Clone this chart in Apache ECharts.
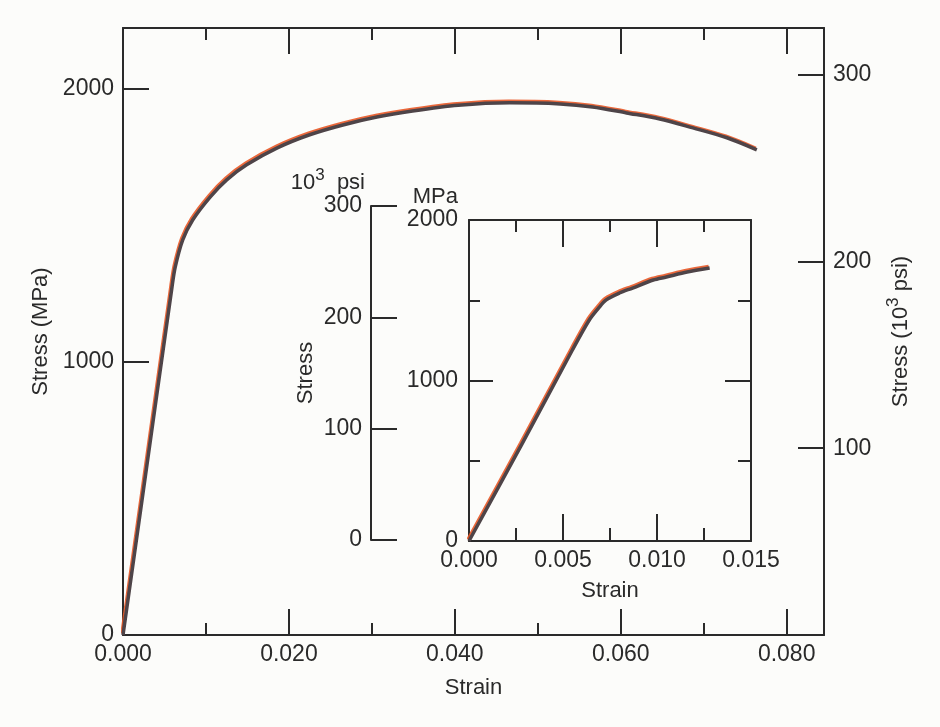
<!DOCTYPE html>
<html>
<head>
<meta charset="utf-8">
<script src="https://cdn.jsdelivr.net/npm/echarts@6/dist/echarts.min.js"></script>
<style>
  html, body { margin: 0; padding: 0; background: #fcfcfa; }
  #chart { width: 940px; height: 727px; }
</style>
</head>
<body>
<div id="chart"></div>
<script>
// main curve: strain vs stress (MPa)
const mainStrain = [0, 0.0024, 0.0059, 0.0063, 0.0072, 0.0084, 0.0105, 0.0125, 0.0149, 0.0186, 0.0225, 0.0265, 0.0306, 0.0349, 0.0404, 0.0466, 0.0527, 0.0566, 0.0607, 0.0647, 0.0687, 0.0728, 0.0764]
const mainStress = [0, 517, 1273, 1348, 1447, 1520, 1604, 1667, 1722, 1784, 1832, 1868, 1897, 1919, 1940, 1949, 1945, 1934, 1912, 1890, 1857, 1821, 1777]

// inset: the early part of the same test, stretched out
const insetStrain = [0, 0.0028, 0.0055, 0.0064, 0.0069, 0.0073, 0.0080, 0.0087, 0.0098, 0.0105, 0.0116, 0.0128]
const insetStress = [0, 600, 1190, 1377, 1452, 1502, 1545, 1576, 1626, 1645, 1676, 1701]

// axis labels shown
const mainStrainTicks = [0, 0.02, 0.04, 0.06, 0.08]
const mainMpaTicks = [0, 1000, 2000]
const mainKsiTicks = [100, 200, 300]
const insetStrainTicks = [0, 0.005, 0.01, 0.015]
const insetMpaTicks = [0, 1000, 2000]
const insetKsiTicks = [0, 100, 200, 300]

const font = '"Liberation Sans", Arial, sans-serif'
const ink = '#2a2a2a'

const pairs = (xs, ys) => xs.map((x, i) => [x, ys[i]])
const pick = (list, digits) => v => {
  const hit = list.some(t => Math.abs(t - v) < 1e-9)
  return hit ? (digits == null ? String(v) : v.toFixed(digits)) : ''
}

// rich styles for names with a superscript
const supRich = {
  b: { fontFamily: font, fontSize: 22, color: ink, lineHeight: 27, verticalAlign: 'bottom' },
  sup: { fontFamily: font, fontSize: 17, color: ink, lineHeight: 17, verticalAlign: 'top' }
}

// shared look for every frame axis
function axis (o) {
  return {
    type: 'value',
    gridIndex: o.grid,
    position: o.position,
    min: o.min,
    max: o.max,
    interval: o.interval,
    show: o.show !== false,
    name: o.name || '',
    nameLocation: o.nameLocation || 'middle',
    nameGap: o.nameGap || 0,
    nameRotate: o.nameRotate,
    nameTextStyle: Object.assign({ color: ink, fontFamily: font, fontSize: 22, rich: supRich }, o.nameStyle || {}),
    axisLine: { show: true, onZero: false, lineStyle: { color: ink, width: 2 } },
    axisTick: { show: true, inside: true, length: o.tickLen || 26, lineStyle: { color: ink, width: 2 } },
    minorTick: o.minor
      ? { show: true, splitNumber: o.minor, length: o.minorLen || 12, lineStyle: { color: ink, width: 2 } }
      : { show: false },
    axisLabel: o.labels
      ? { show: true, color: ink, fontFamily: font, fontSize: 23, margin: o.margin || 9, formatter: o.labels, showMaxLabel: true, hideOverlap: false }
      : { show: false },
    splitLine: { show: false },
    minorSplitLine: { show: false }
  }
}

const curveStyle = {
  color: '#4e4448',
  width: 3.5,
  shadowColor: 'rgba(232, 88, 38, 0.9)',
  shadowBlur: 0,
  shadowOffsetX: -1,
  shadowOffsetY: -1.5
}

const option = {
  backgroundColor: '#fcfcfa',
  animation: false,
  grid: [
    { left: 123, top: 28, width: 701, height: 607, outerBoundsMode: 'none' },
    { left: 469, top: 220, width: 282, height: 321, outerBoundsMode: 'none' },
    { left: 371, top: 206, width: 1, height: 334, outerBoundsMode: 'none' }
  ],
  xAxis: [
    axis({ grid: 0, position: 'bottom', min: 0, max: 0.0845, interval: 0.02, minor: 2,
      labels: pick(mainStrainTicks, 3), margin: 8, name: 'Strain', nameGap: 42 }),
    axis({ grid: 0, position: 'top', min: 0, max: 0.0845, interval: 0.02, minor: 2 }),
    axis({ grid: 1, position: 'bottom', min: 0, max: 0.015, interval: 0.005, minor: 2, tickLen: 27, minorLen: 13,
      labels: pick(insetStrainTicks, 3), margin: 8, name: 'Strain', nameGap: 39 }),
    axis({ grid: 1, position: 'top', min: 0, max: 0.015, interval: 0.005, minor: 2, tickLen: 27 }),
    { type: 'value', gridIndex: 2, show: false, min: 0, max: 1 }
  ],
  yAxis: [
    axis({ grid: 0, position: 'left', min: 0, max: 2223, interval: 1000,
      labels: pick(mainMpaTicks), name: 'Stress (MPa)', nameRotate: 90, nameGap: 62 }),
    axis({ grid: 0, position: 'right', min: 0, max: 325, interval: 100,
      labels: pick(mainKsiTicks), name: '{b|Stress (10}{sup|3}{b| psi)}', nameRotate: 90, nameGap: 61 }),
    axis({ grid: 1, position: 'left', min: 0, max: 2000, interval: 1000, minor: 2, tickLen: 24, minorLen: 11,
      labels: pick(insetMpaTicks), margin: 11, name: 'MPa', nameLocation: 'end', nameGap: 12,
      nameStyle: { align: 'right', padding: [0, 11, 0, 0] } }),
    axis({ grid: 1, position: 'right', min: 0, max: 2000, interval: 1000, minor: 2, tickLen: 26, minorLen: 13 }),
    axis({ grid: 2, position: 'left', min: 0, max: 300, interval: 100, tickLen: 26,
      labels: pick(insetKsiTicks), margin: 9, name: 'Stress', nameRotate: 90, nameGap: 54 })
  ],
  series: [
    {
      type: 'line',
      xAxisIndex: 0,
      yAxisIndex: 0,
      data: pairs(mainStrain, mainStress),
      symbol: 'none',
      smooth: 0.3,
      lineStyle: curveStyle
    },
    {
      type: 'line',
      xAxisIndex: 2,
      yAxisIndex: 2,
      data: pairs(insetStrain, insetStress),
      symbol: 'none',
      smooth: 0.3,
      lineStyle: curveStyle
    }
  ]
}

// the "10³ psi" caption of the inset's outer scale
const caption = axis({ grid: 2, position: 'left', min: 0, max: 300,
  name: '{b|10}{sup|3}{b|  psi}', nameLocation: 'end', nameGap: 12,
  nameStyle: { align: 'right', padding: [0, 6, 0, 0] } })
caption.axisLine.show = false
caption.axisTick.show = false
option.yAxis.push(caption)

const chart = echarts.init(document.getElementById('chart'))
chart.setOption(option)
</script>
</body>
</html>
